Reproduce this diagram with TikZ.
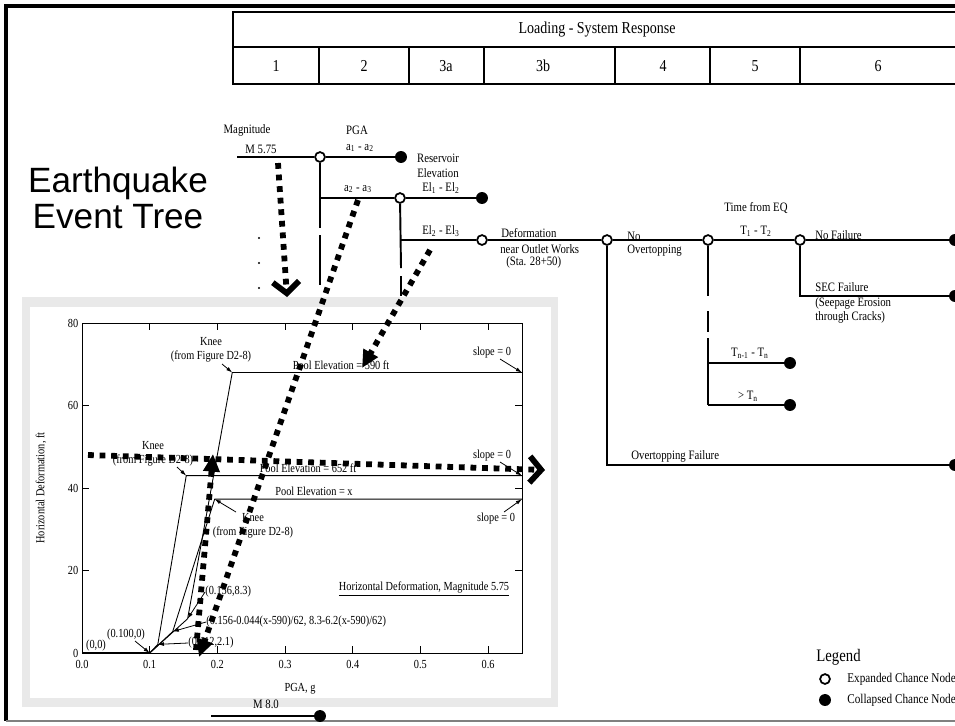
\documentclass[tikz,border=0pt]{standalone}
\usepackage{fontspec}
\setmainfont{Liberation Serif}[FakeStretch=0.84]
\newfontfamily\titlefont{Liberation Sans}
\usetikzlibrary{arrows.meta, calc}

\tikzset{
  chance/.style={circle, draw, fill=white, line width=1pt, inner sep=0pt, minimum size=5.6pt},
  endnode/.style={circle, fill=black, inner sep=0pt, minimum size=6.8pt},
  branch/.style={line width=1.1pt},
  tlabel/.style={font=\fontsize{7.3}{8.4}\selectfont, inner sep=0pt},
  clabel/.style={font=\fontsize{7}{8}\selectfont, inner sep=0pt},
  hlabel/.style={font=\fontsize{9.5}{11}\selectfont, inner sep=0pt},
  heavy/.style={line width=3.3pt, dash pattern=on 3.3pt off 3.3pt},
  note/.style={-{Latex[length=3.5pt,width=2.2pt]}, line width=0.45pt},
  chevron/.style={-{Straight Barb[length=6.5pt,width=15pt]}},
  bigtip/.style={-{Triangle[length=10pt,width=9pt]}},
}

\begin{document}
\begin{tikzpicture}[x=0.02cm, y=-0.02cm]
\useasboundingbox (0,0) rectangle (955,725);

% frame
\draw[line width=1.8pt] (955,6) -- (6,6) -- (6,721);
\draw[line width=0.8pt, gray] (6,721) -- (955,721);

% header table
\draw[line width=0.6pt] (233,12) rectangle (965,84);
\draw[line width=0.6pt] (233,47) -- (965,47);
\foreach \x in {319,409,484,615,710,800}
    \draw[line width=0.6pt] (\x,47) -- (\x,84);
\node[hlabel] (hdr) at (597,30) {Loading - System Response};
\foreach \lab/\x in {1/276, 2/364, 3a/446, 3b/543, 4/663, 5/755, 6/878}
    \node[hlabel] (col\lab) at (\x,66) {\lab};

% title
\node[font=\titlefont\fontsize{20}{20.5}\selectfont, align=center] (title) at (118,198) {Earthquake\\Event Tree};

% chart panel
\fill[gray!17] (22,297) rectangle (558,707);
\fill[white] (30,307) rectangle (551,698);
\begin{scope}[shift={(82,653)}, x=13.54cm, y=0.0825cm]
    \draw[line width=0.5pt] (0,0) rectangle (0.65,80);
    \foreach \t in {0.1,0.2,0.3,0.4,0.5,0.6} {
        \draw[line width=0.5pt] (\t,0) -- (\t,1.7);
        \draw[line width=0.5pt] (\t,80) -- (\t,78.3);
    }
    \foreach \t [count=\i] in {0.0,0.1,0.2,0.3,0.4,0.5,0.6}
        \node[clabel] (xt\i) at (\t,-2.7) {\t};
    \foreach \v in {0,20,40,60,80} {
        \draw[line width=0.5pt] (0,\v) -- (0.01,\v);
        \node[clabel, anchor=east] (yt\v) at (-0.005,\v) {\v};
    }
    \foreach \v in {20,40,60}
        \draw[line width=0.5pt] (0.65,\v) -- (0.64,\v);
    % curve points
    \coordinate (o) at (0,0);
    \coordinate (p0) at (0.1,0);
    \coordinate (pa) at (0.156,8.3);
    \coordinate (pb) at (0.112,2.1);
    \coordinate (pc) at (0.134,5.2);
    \coordinate (k1) at (0.222,68);
    \coordinate (k2) at (0.154,43);
    \coordinate (k3) at (0.196,37.3);
    \coordinate (s1) at (0.65,68);
    \coordinate (s2) at (0.65,43);
    \coordinate (s3) at (0.65,37.3);
    \draw[line width=1.6pt] (o) -- (p0);
    \draw[line width=0.5pt] (p0) -- (pa) -- (k1) -- (s1);
    \draw[line width=0.5pt] (p0) -- (pb) -- (k2) -- (s2);
    \draw[line width=0.5pt] (p0) -- (pc) -- (k3) -- (s3);
\end{scope}
\node[clabel] (xlab) at (300,689) {PGA, g};
\node[clabel, rotate=90] (ylab) at (41,488) {Horizontal Deformation, ft};

% chart notes
\node[clabel, align=center] (knee1) at (211,350) {Knee\\(from Figure D2-8)};
\node[clabel, align=center] (knee2) at (153,454) {Knee\\(from Figure D2-8)};
\node[clabel, align=center] (knee3) at (253,526) {Knee\\(from Figure D2-8)};
\coordinate (ka1) at (222,364);
\coordinate (ka2) at (177,467);
\coordinate (ka3) at (236,512);
\draw[note] (ka1) -- (k1);
\draw[note] (ka2) -- (k2);
\draw[note] (ka3) -- (k3);
\node[clabel] (pool1) at (341,365) {Pool Elevation = 590 ft};
\node[clabel] (pool2) at (308,468) {Pool Elevation = 652 ft};
\node[clabel] (pool3) at (314,491) {Pool Elevation = x};
\node[clabel] (slope1) at (492,353) {slope = 0};
\node[clabel] (slope2) at (492,456) {slope = 0};
\node[clabel] (slope3) at (496,519) {slope = 0};
\coordinate (sa1) at (500,359);
\coordinate (sa2) at (500,462);
\coordinate (sa3) at (504,512);
\draw[note] (sa1) -- (s1);
\draw[note] (sa2) -- (s2);
\draw[note] (sa3) -- (s3);
\node[clabel] (cap) at (424,589) {\underline{Horizontal Deformation, Magnitude 5.75}};
\node[clabel] (l00) at (96,646) {(0,0)};
\node[clabel] (l100) at (126,635) {(0.100,0)};
\coordinate (a100) at (135,641);
\draw[note] (a100) -- (p0);
\node[clabel, anchor=west] (l156) at (205,592) {(0.156,8.3)};
\draw[note] (l156.west) -- (pa);
\node[clabel, anchor=west] (lform) at (206,622) {(0.156-0.044(x-590)/62, 8.3-6.2(x-590)/62)};
\draw[note] (lform.west) -- (pc);
\node[clabel, anchor=west] (l112) at (188,643) {(0.112,2.1)};
\draw[note] (l112.west) -- (pb);

% event tree
\node[tlabel] (mag) at (247,130) {Magnitude};
\node[tlabel] (pga) at (357,130) {PGA};
\coordinate (m1) at (237,157);
\node[chance] (n1) at (320,157) {};
\node[endnode] (e1) at (401,157) {};
\draw[branch] (m1) -- (n1) -- (e1);
\node[tlabel] (m575) at (261,149) {M 5.75};
\node[tlabel] (a12) at (360,148) {a\textsubscript{1} - a\textsubscript{2}};
\foreach \y in {238,263,288}
    \fill (259,\y) circle (0.6pt);
\coordinate (v1a) at (320,228);
\coordinate (v1b) at (320,235);
\coordinate (v1c) at (320,285);
\draw[branch] (n1) -- (v1a);
\draw[branch] (v1b) -- (v1c);

\coordinate (b2) at (320,198);
\node[chance] (n2) at (400,198) {};
\node[endnode] (e2) at (482,198) {};
\draw[branch] (b2) -- (n2) -- (e2);
\node[tlabel] (a23) at (358,189) {a\textsubscript{2} - a\textsubscript{3}};
\node[tlabel, align=center] (res) at (438,166) {Reservoir\\Elevation};
\node[tlabel] (el12) at (441,188) {El\textsubscript{1} - El\textsubscript{2}};
\coordinate (v2a) at (401,268);
\coordinate (v2b) at (401,276);
\coordinate (v2c) at (401,296);
\draw[branch] (n2) -- (v2a);
\draw[branch] (v2b) -- (v2c);

\coordinate (b3) at (401,240);
\node[chance] (n3) at (482,240) {};
\node[chance] (n4) at (607,240) {};
\draw[branch] (b3) -- (n3) -- (n4);
\node[tlabel] (el23) at (441,231) {El\textsubscript{2} - El\textsubscript{3}};
\node[tlabel, anchor=west] (def1) at (501,233) {Deformation};
\node[tlabel, anchor=west] (def2) at (500,249) {near Outlet Works};
\node[tlabel, anchor=west] (def3) at (506,262) {(Sta. 28+50)};

\node[chance] (n5) at (708,240) {};
\node[chance] (n6) at (800,240) {};
\node[endnode] (e6a) at (955,240) {};
\draw[branch] (n4) -- (n5) -- (n6) -- (e6a);
\node[tlabel, anchor=west] (noov1) at (627,236) {No};
\node[tlabel, anchor=west] (noov2) at (627,251) {Overtopping};
\node[tlabel] (teq) at (756,208) {Time from EQ};
\node[tlabel] (t12) at (756,231) {T\textsubscript{1} - T\textsubscript{2}};
\node[tlabel, anchor=west] (nofail) at (815,235) {No Failure};

\coordinate (b6) at (800,296);
\node[endnode] (e6b) at (955,296) {};
\draw[branch] (n6) -- (b6) -- (e6b);
\node[tlabel, anchor=west, align=left] (sec) at (815,303) {SEC Failure\\(Seepage Erosion\\through Cracks)};

\coordinate (v5a) at (708,296);
\coordinate (v5b) at (708,311);
\coordinate (v5c) at (708,332);
\coordinate (v5d) at (708,338);
\coordinate (b5a) at (708,363);
\coordinate (b5b) at (708,405);
\draw[branch] (n5) -- (v5a);
\draw[branch] (v5b) -- (v5c);
\draw[branch] (v5d) -- (b5b);
\node[endnode] (e5a) at (790,363) {};
\node[endnode] (e5b) at (790,405) {};
\draw[branch] (b5a) -- (e5a);
\draw[branch] (b5b) -- (e5b);
\node[tlabel] (tn1) at (750,353) {T\textsubscript{n-1} - T\textsubscript{n}};
\node[tlabel] (tn) at (748,396) {\textgreater{} T\textsubscript{n}};

\coordinate (b4) at (607,465);
\node[endnode] (e4) at (955,465) {};
\draw[branch] (n4) -- (b4) -- (e4);
\node[tlabel, anchor=west] (ovfail) at (631,456) {Overtopping Failure};

% M 8.0 branch
\coordinate (m2) at (211,716);
\node[endnode] (e8) at (320,716) {};
\draw[branch] (m2) -- (e8);
\node[tlabel] (m80) at (266,704) {M 8.0};

% legend
\node[font=\fontsize{10}{11}\selectfont, inner sep=0pt, anchor=west] (leg) at (816,657) {Legend};
\node[chance] (lgo) at (825,679) {};
\node[endnode] (lgc) at (825,700) {};
\node[tlabel, font=\fontsize{7.6}{8.6}\selectfont, anchor=west] (lgot) at (847,679) {Expanded Chance Node};
\node[tlabel, font=\fontsize{7.6}{8.6}\selectfont, anchor=west] (lgct) at (847,700) {Collapsed Chance Node};

% heavy dotted arrows
\coordinate (h1s) at (278,163);
\coordinate (h1e) at (287,297);
\coordinate (h2s) at (358,200);
\coordinate (h2e) at (199,657);
\coordinate (h3s) at (196,650);
\coordinate (h3e) at (213,454);
\coordinate (h4s) at (88,455);
\coordinate (h4e) at (545,470);
\coordinate (h5s) at (430,250);
\coordinate (h5e) at (362,368);
\draw[heavy, chevron] (h1s) -- (h1e);
\draw[heavy, bigtip] (h2s) -- (h2e);
\draw[heavy, bigtip] (h3s) -- (h3e);
\draw[heavy, chevron] (h4s) -- (h4e);
\draw[heavy, bigtip] (h5s) -- (h5e);
\end{tikzpicture}
\end{document}
